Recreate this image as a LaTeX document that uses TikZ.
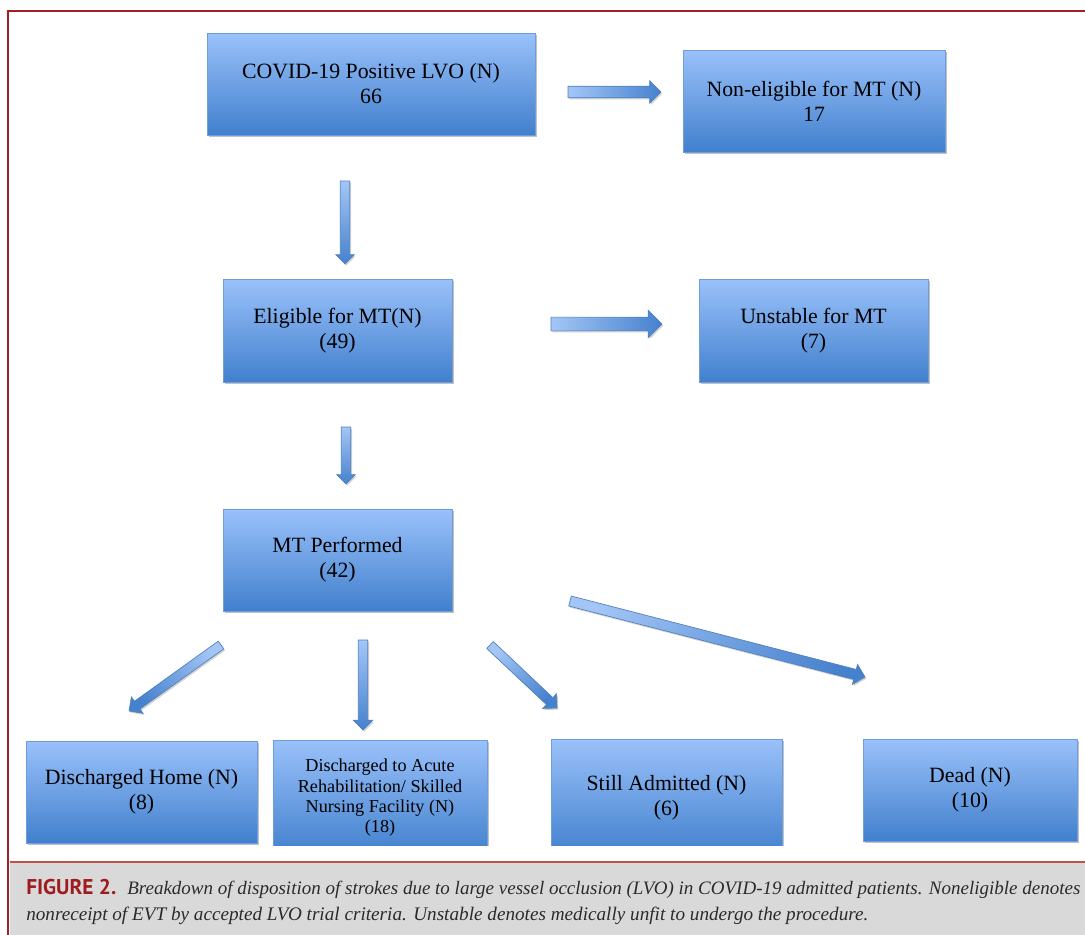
\documentclass[tikz,border=0pt]{standalone}
\usepackage{fontspec}
\setmainfont{Liberation Serif}
\newfontfamily\capsans{PT Sans}
\usetikzlibrary{shapes.arrows,shadows,calc}
\newdimen\U \U=0.75pt
\definecolor{framered}{HTML}{A41E25}
\definecolor{figred}{HTML}{9E1B20}
\definecolor{capgray}{HTML}{D9D9D9}
\definecolor{capline}{HTML}{C0504D}
\definecolor{boxtop}{HTML}{9AC1FA}
\definecolor{boxbot}{HTML}{4180CD}
\definecolor{boxline}{HTML}{6F9DDB}
\definecolor{arrlight}{HTML}{A3C6F6}
\definecolor{arrdark}{HTML}{4681CE}
\definecolor{arrline}{HTML}{4F81BD}
\definecolor{captext}{HTML}{2B2B2B}
\tikzset{
  box/.style={draw=boxline, line width=0.6pt, top color=boxtop, bottom color=boxbot,
    align=center, inner sep=0pt, text=black,
    font=\fontsize{16.35}{18.75}\selectfont,
    drop shadow={shadow xshift=1.2pt, shadow yshift=-1.5pt, opacity=0.35, fill=black!70}},
  smallbox/.style={box, font=\fontsize{13.65}{15.2}\selectfont},
  barrow/.style={single arrow, draw=arrline, line width=0.5pt, inner xsep=0pt, outer sep=0pt,
    drop shadow={shadow xshift=1pt, shadow yshift=-1.2pt, opacity=0.3, fill=black!60}},
}
\newcommand\blockarrow[4]{%
  \path let \p1=($(#2)-(#1)$), \n1={veclen(\x1,\y1)}, \n2={atan2(\y1,\x1)}, \n3={\n2+90} in
    node[barrow, anchor=tail, rotate=\n2, minimum height=\n1, inner ysep=#3,
         single arrow head extend=#4, top color=arrlight, bottom color=arrdark,
         shading angle=\n3] at (#1) {};
}
\begin{document}
\begin{tikzpicture}[x=0.75pt, y=-0.75pt]
\useasboundingbox (0,0) rectangle (1085,935);
% frame and caption bar
\fill[capgray] (9.5,862) rectangle (1085,935);
\draw[capline, line width=1.5\U] (9.5,862) -- (1085,862);
\draw[framered, line width=2.6\U] (8,935) -- (8,11) -- (1085,11);

% boxes
\node[box, minimum width=328\U, minimum height=102\U] (covid) at (371,84) {COVID-19 Positive LVO (N)\\66};
\node[box, minimum width=262\U, minimum height=102\U] (nonel) at (814,101) {Non-eligible for MT (N)\\17};
\node[box, minimum width=229\U, minimum height=103\U] (elig) at (337.5,330.5) {Eligible for MT(N)\\(49)};
\node[box, minimum width=229\U, minimum height=103\U] (unst) at (813.5,330.5) {Unstable for MT\\(7)};
\node[box, minimum width=229\U, minimum height=102\U] (mt) at (337.5,560) {MT Performed\\(42)};
\node[box, minimum width=231\U, minimum height=102\U] (home) at (141.5,792) {Discharged Home (N)\\(8)};
\begin{scope}
  \clip (0,0) rectangle (1085,845);
  \node[smallbox, minimum width=214\U, minimum height=116\U] (acute) at (380,798) {Discharged to Acute\\Rehabilitation/ Skilled\\Nursing Facility (N)\\(18)};
  \node[box, minimum width=231\U, minimum height=118\U] (still) at (666.5,798) {Still Admitted (N)\\(6)};
\end{scope}
\node[box, minimum width=214\U, minimum height=102\U] (dead) at (970,790) {Dead (N)\\(10)};

% arrow end points
\coordinate (a1s) at (568,92);  \coordinate (a1e) at (661,92);
\coordinate (a2s) at (551,324); \coordinate (a2e) at (662,324);
\coordinate (a3s) at (345,181); \coordinate (a3e) at (345,264);
\coordinate (a4s) at (346,427); \coordinate (a4e) at (346,484);
\coordinate (a5s) at (221,645); \coordinate (a5e) at (129,711);
\coordinate (a6s) at (363,640); \coordinate (a6e) at (363,730);
\coordinate (a7s) at (490,645); \coordinate (a7e) at (557,708);
\coordinate (a8s) at (570,601); \coordinate (a8e) at (865,677);

\blockarrow{a1s}{a1e}{4.1pt}{4.1pt}
\blockarrow{a2s}{a2e}{4.9pt}{5.2pt}
\blockarrow{a3s}{a3e}{3.3pt}{3.4pt}
\blockarrow{a4s}{a4e}{3.3pt}{3.4pt}
\blockarrow{a5s}{a5e}{3.3pt}{4pt}
\blockarrow{a6s}{a6e}{3.3pt}{3.8pt}
\blockarrow{a7s}{a7e}{3.3pt}{4pt}
\blockarrow{a8s}{a8e}{3.6pt}{3.9pt}

% caption
\node[anchor=base west, inner sep=0pt, text=figred, font=\capsans\bfseries] (figlab) at (26,894)
  {\resizebox{90\U}{!}{FIGURE 2.}};
\node[anchor=base west, inner sep=0pt, text=captext] (cap1) at (127,894)
  {\resizebox{953\U}{!}{\itshape Breakdown of disposition of strokes due to large vessel occlusion (LVO) in COVID-19 admitted patients. Noneligible denotes}};
\node[anchor=base west, inner sep=0pt, text=captext] (cap2) at (26,920)
  {\resizebox{842\U}{!}{\itshape nonreceipt of EVT by accepted LVO trial criteria. Unstable denotes medically unfit to undergo the procedure.}};
\end{tikzpicture}
\end{document}
